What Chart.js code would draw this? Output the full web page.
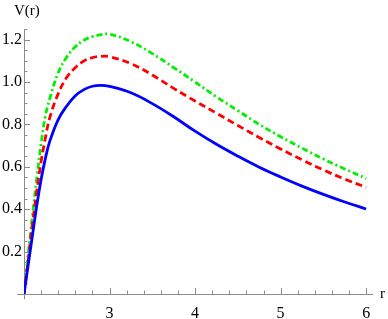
<!DOCTYPE html>
<html>
<head>
<meta charset="utf-8">
<script src="https://cdn.jsdelivr.net/npm/chart.js@4"></script>
<style>
  html, body { margin: 0; padding: 0; background: #fff; }
  #wrap { width: 388px; height: 319px; }
</style>
</head>
<body>
<div id="wrap"><canvas id="cvs"></canvas></div>
<script>
const rValues = [2.0, 2.05, 2.1, 2.15, 2.2, 2.25, 2.3, 2.4, 2.5, 2.6, 2.7, 2.8, 2.9, 3.0, 3.25, 3.5, 3.75, 4.0, 4.25, 4.5, 4.75, 5.0, 5.25, 5.5, 5.75, 6.0];
const blueV  = [0, 0.14, 0.28, 0.418, 0.54, 0.64, 0.719, 0.823, 0.887, 0.935, 0.964, 0.98, 0.984, 0.979, 0.949, 0.898, 0.836, 0.768, 0.706, 0.650, 0.598, 0.552, 0.509, 0.470, 0.434, 0.401];
const redV   = [0, 0.165, 0.335, 0.488, 0.625, 0.736, 0.83, 0.945, 1.022, 1.068, 1.099, 1.115, 1.121, 1.119, 1.087, 1.033, 0.970, 0.910, 0.853, 0.795, 0.738, 0.684, 0.633, 0.585, 0.542, 0.503];
const greenV = [0, 0.19, 0.373, 0.55, 0.71, 0.84, 0.92, 1.044, 1.118, 1.166, 1.197, 1.214, 1.223, 1.226, 1.19, 1.134, 1.068, 1.0, 0.93, 0.865, 0.80, 0.742, 0.688, 0.637, 0.59, 0.545];

const xTicks = [3, 4, 5, 6];
const yTicks = [0.2, 0.4, 0.6, 0.8, 1.0, 1.2];

const FONT = "'Liberation Serif', 'Times New Roman', serif";
const AXIS = '#8c8c8c';

function pts(ys) {
    return rValues.map((r, i) => ({x: r, y: ys[i]}));
}

// axes through the origin (2,0) with inward ticks, like Mathematica
const axesPlugin = {
    id: 'axes',
    beforeDatasetsDraw(chart) {
        const c = chart.ctx, xs = chart.scales.x, ys = chart.scales.y;
        const x0 = xs.getPixelForValue(2), y0 = ys.getPixelForValue(0);
        c.save();
        c.strokeStyle = AXIS;
        c.lineWidth = 1;
        c.beginPath();
        c.moveTo(xs.getPixelForValue(1.92), y0 + 0.5);
        c.lineTo(xs.getPixelForValue(6.08), y0 + 0.5);
        c.moveTo(x0 + 0.5, ys.getPixelForValue(-0.025));
        c.lineTo(x0 + 0.5, ys.getPixelForValue(1.25));
        for (let k = 0; k <= 20; k++) {
            const v = 2 + k * 0.2;
            const px = Math.round(xs.getPixelForValue(v)) + 0.5;
            const len = k % 5 === 0 ? 6 : 3.5;
            c.moveTo(px, y0);
            c.lineTo(px, y0 - len);
        }
        for (let k = 1; k <= 25; k++) {
            const v = k * 0.05;
            const py = Math.round(ys.getPixelForValue(v)) + 0.5;
            const len = k % 4 === 0 ? 6 : 3.5;
            c.moveTo(x0, py);
            c.lineTo(x0 + len, py);
        }
        c.stroke();
        c.fillStyle = '#000';
        c.font = '15px ' + FONT;
        c.textBaseline = 'alphabetic';
        c.textAlign = 'left';
        c.fillText('V(r)', 14, 15);
        c.fillText('r', 380, 298);
        c.restore();
    }
};

const ctx = document.getElementById('cvs');
new Chart(ctx, {
    type: 'line',
    data: {
        datasets: [
            {data: pts(blueV), borderColor: '#0000ff', borderWidth: 2.8},
            {data: pts(redV), borderColor: '#ff0000', borderWidth: 2.8, borderDash: [7, 4]},
            {data: pts(greenV), borderColor: '#00ee00', borderWidth: 2.8, borderDash: [6, 3, 2, 3]}
        ]
    },
    options: {
        responsive: true,
        maintainAspectRatio: false,
        animation: false,
        events: [],
        layout: {padding: {top: 29, right: 15, left: 0, bottom: 0}},
        elements: {
            point: {radius: 0},
            line: {tension: 0.4, fill: false, borderCapStyle: 'butt'}
        },
        plugins: {legend: {display: false}, tooltip: {enabled: false}},
        scales: {
            x: {
                type: 'linear',
                min: 2,
                max: 6.08,
                grid: {display: false, drawTicks: false, tickLength: 0},
                border: {display: false},
                afterBuildTicks: s => { s.ticks = xTicks.map(v => ({value: v})); },
                afterFit: s => { s.height = 25; },
                ticks: {
                    autoSkip: false,
                    maxRotation: 0,
                    padding: 10,
                    color: '#000',
                    font: {family: FONT, size: 16},
                    callback: v => String(v)
                }
            },
            y: {
                type: 'linear',
                min: 0,
                max: 1.25,
                grid: {display: false, drawTicks: false, tickLength: 0},
                border: {display: false},
                afterBuildTicks: s => { s.ticks = yTicks.map(v => ({value: v})); },
                afterFit: s => { s.width = 24; },
                ticks: {
                    autoSkip: false,
                    padding: 2,
                    color: '#000',
                    font: {family: FONT, size: 16},
                    callback: v => Number(v).toFixed(1)
                }
            }
        }
    },
    plugins: [axesPlugin]
});
</script>
</body>
</html>
